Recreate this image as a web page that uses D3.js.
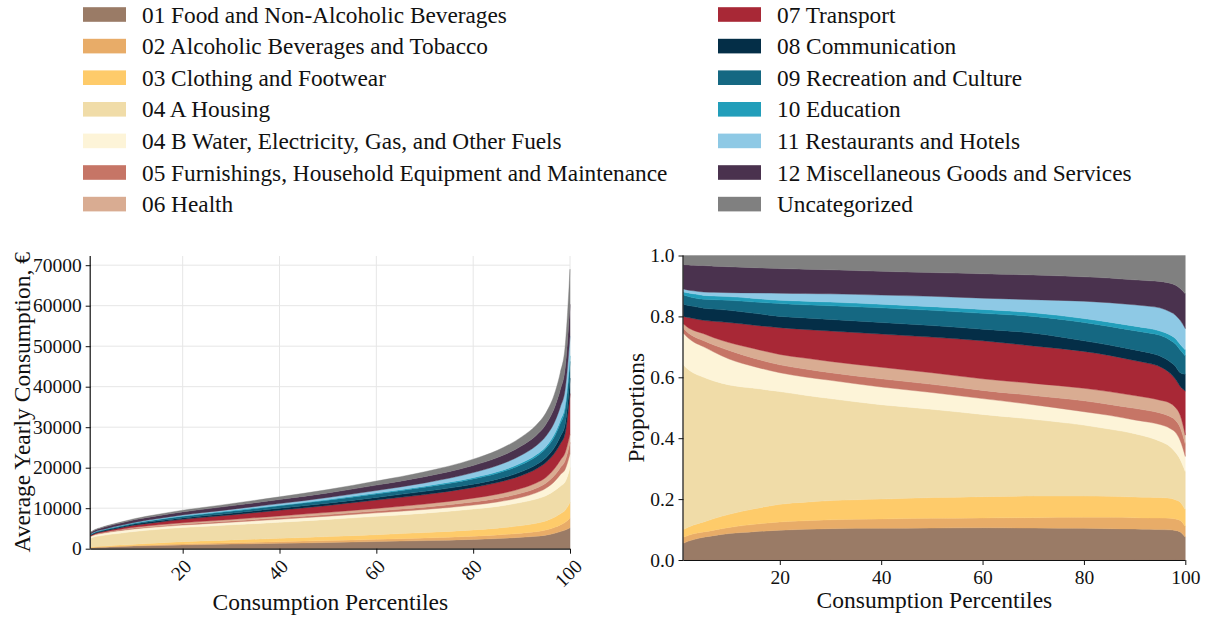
<!DOCTYPE html>
<html><head><meta charset="utf-8">
<script src="https://cdn.jsdelivr.net/npm/d3@7"></script>
<style>
body{margin:0;background:#fff}
svg{display:block}
text{font-family:"Liberation Serif","Times New Roman",serif;fill:#111}
</style></head>
<body><svg id="chart" width="1214" height="617"></svg>
<script>
const categories = [
  "01 Food and Non-Alcoholic Beverages",
  "02 Alcoholic Beverages and Tobacco",
  "03 Clothing and Footwear",
  "04 A Housing",
  "04 B Water, Electricity, Gas, and Other Fuels",
  "05 Furnishings, Household Equipment and Maintenance",
  "06 Health",
  "07 Transport",
  "08 Communication",
  "09 Recreation and Culture",
  "10 Education",
  "11 Restaurants and Hotels",
  "12 Miscellaneous Goods and Services",
  "Uncategorized"
];
const colors = ["#9a7b66","#e8ac68","#fecb6a","#f0dca8","#fdf4d8","#c67566","#d9ac92",
                "#a82836","#042e47","#156882","#229eba","#8ec9e5","#4a324e","#808080"];

const percentiles = [1,2,3,5,7,10,15,20,25,30,40,50,60,70,80,85,90,93,95,97,98,99,100];
// average yearly consumption (EUR) at each percentile
const totals = [4100,4800,5200,5900,6500,7400,8500,9500,10300,11100,12800,14600,16700,19000,22100,24300,27600,30500,33500,39000,43500,50000,69000];

// budget shares of each category at each percentile
const s01 = [.055,.062,.067,.075,.080,.087,.093,.098,.101,.103,.104,.105,.106,.105,.104,.103,.102,.101,.100,.099,.097,.092,.075];
const s02 = [.020,.019,.019,.017,.018,.020,.024,.027,.028,.029,.031,.032,.032,.034,.036,.037,.037,.037,.038,.038,.038,.038,.035];
const s03 = [.025,.027,.029,.033,.038,.043,.051,.058,.061,.063,.065,.068,.070,.071,.070,.069,.068,.068,.067,.066,.063,.060,.055];
const s04a = [.540,.517,.499,.475,.452,.425,.396,.370,.351,.335,.310,.290,.270,.252,.233,.221,.208,.196,.185,.169,.157,.140,.125];
const s04b = [.105,.103,.102,.100,.095,.085,.071,.062,.060,.060,.058,.055,.052,.048,.044,.045,.045,.050,.055,.060,.065,.062,.050];
const s05 = [.015,.017,.018,.020,.023,.028,.027,.026,.026,.025,.027,.027,.027,.030,.036,.036,.038,.038,.038,.039,.040,.043,.040];
const s06 = [.015,.017,.020,.023,.024,.026,.032,.034,.036,.037,.038,.038,.038,.040,.041,.042,.042,.042,.042,.044,.042,.040,.030];
const s07 = [.025,.034,.039,.044,.054,.066,.077,.088,.094,.100,.109,.117,.125,.123,.121,.119,.115,.113,.110,.098,.093,.095,.145];
const s08 = [.040,.040,.040,.040,.040,.040,.039,.037,.038,.038,.038,.038,.038,.042,.035,.034,.035,.035,.035,.038,.042,.045,.055];
const s09 = [.030,.029,.028,.029,.031,.033,.037,.042,.043,.045,.048,.050,.052,.055,.060,.061,.063,.065,.068,.071,.073,.075,.060];
const s10 = [.010,.012,.013,.013,.012,.012,.012,.011,.012,.012,.012,.012,.013,.012,.013,.014,.015,.015,.014,.017,.018,.018,.020];
const s11 = [.010,.009,.010,.011,.012,.013,.018,.023,.025,.027,.030,.034,.037,.043,.057,.064,.070,.073,.076,.076,.077,.079,.070];
const s12 = [.080,.083,.084,.087,.086,.085,.083,.081,.080,.079,.078,.078,.080,.081,.080,.081,.082,.084,.087,.094,.098,.105,.114];
const sU  = [.030,.031,.032,.033,.035,.037,.040,.043,.045,.047,.052,.056,.060,.064,.070,.074,.080,.083,.085,.091,.097,.108,.126];

const shares = [s01,s02,s03,s04a,s04b,s05,s06,s07,s08,s09,s10,s11,s12,sU];

const leftYTicks = [0,10000,20000,30000,40000,50000,60000,70000];
const leftXTicks = [20,40,60,80,100];
const rightYTicks = [0,0.2,0.4,0.6,0.8,1.0];
const rightXTicks = [20,40,60,80,100];

const keys = categories.map((_, i) => "k" + i);
const rows = percentiles.map((p, j) => {
  const r = {p};
  keys.forEach((k, i) => r[k] = shares[i][j] * totals[j]);
  return r;
});

const svg = d3.select("#chart");
const tickFont = 19.5, labelFont = 23.5, legendFont = 23.3;

// ---------- Legend ----------
const leg = svg.append("g");
categories.forEach((c, i) => {
  const col = i < 7 ? 0 : 1;
  const row = i % 7;
  const sx = col === 0 ? 83 : 718;
  const tx = col === 0 ? 142 : 777;
  const cy = 14.5 + row * 31.6;
  leg.append("rect").attr("x", sx).attr("y", cy - 7.3).attr("width", 43).attr("height", 14.6).attr("fill", colors[i]);
  leg.append("text").attr("x", tx).attr("y", cy).attr("dominant-baseline", "central")
     .style("font-size", legendFont + "px").text(c);
});

function styleAxis(g) {
  g.attr("font-family", null).attr("font-size", null);
  g.select(".domain").attr("stroke", "#111").attr("stroke-width", 1.2);
  g.selectAll(".tick line").attr("stroke", "#111").attr("stroke-width", 1);
  g.selectAll("text").style("font-size", tickFont + "px").attr("fill", "#111");
}

// ---------- Left chart ----------
const L = {x0: 90.7, x1: 570, y0: 548.7, y1: 256};
const xL = d3.scaleLinear().domain([1, 100]).range([L.x0, L.x1]);
const yL = d3.scaleLinear().domain([0, 72270]).range([L.y0, L.y1]);

const gL = svg.append("g");
gL.append("g").selectAll("line").data(leftYTicks.filter(v => v > 0)).join("line")
  .attr("x1", L.x0).attr("x2", L.x1).attr("y1", d => yL(d)).attr("y2", d => yL(d))
  .attr("stroke", "#e6e6e6").attr("stroke-width", 1);
gL.append("g").selectAll("line").data(leftXTicks).join("line")
  .attr("x1", d => xL(d)).attr("x2", d => xL(d)).attr("y1", L.y0).attr("y2", L.y1)
  .attr("stroke", "#e6e6e6").attr("stroke-width", 1);

const stackAbs = d3.stack().keys(keys).order(d3.stackOrderNone).offset(d3.stackOffsetNone)(rows);
const areaL = d3.area().curve(d3.curveMonotoneX)
  .x(d => xL(d.data.p)).y0(d => yL(d[0])).y1(d => yL(d[1]));
gL.append("g").selectAll("path").data(stackAbs).join("path")
  .attr("d", areaL).attr("fill", (d, i) => colors[i])
  .attr("stroke", (d, i) => colors[i]).attr("stroke-width", 0.4);

const gAxLy = gL.append("g").attr("transform", `translate(${L.x0},0)`)
  .call(d3.axisLeft(yL).tickValues(leftYTicks).tickFormat(d3.format("d")).tickSize(5).tickPadding(4));
const gAxLx = gL.append("g").attr("transform", `translate(0,${L.y0})`)
  .call(d3.axisBottom(xL).tickValues(leftXTicks).tickSize(5).tickFormat(d3.format("d")));
styleAxis(gAxLy); styleAxis(gAxLx);
gAxLy.select(".domain").attr("d", `M-0.5,${L.y0}V${L.y1}`);
gAxLx.select(".domain").attr("d", `M${L.x0},0.5H${L.x1}`);
gAxLx.selectAll(".tick text").each(function() {
  const t = d3.select(this);
  const bb = this.getBBox();
  const half = (bb.width + bb.height) / Math.SQRT2 / 2;
  t.attr("y", null).attr("dy", null).attr("text-anchor", "middle").attr("dominant-baseline", "central")
   .attr("transform", `translate(-2,${7 + half}) rotate(-45)`);
});

gL.append("text").attr("x", (L.x0 + L.x1) / 2).attr("y", 610).attr("text-anchor", "middle")
  .style("font-size", labelFont + "px").text("Consumption Percentiles");
gL.append("text").attr("transform", `translate(30,${(L.y0 + L.y1) / 2}) rotate(-90)`).attr("text-anchor", "middle")
  .style("font-size", labelFont + "px").text("Average Yearly Consumption, €");

// ---------- Right chart ----------
const R = {x0: 683.5, x1: 1185.3, y0: 560, y1: 255.5};
const xR = d3.scaleLinear().domain([1, 100]).range([R.x0, R.x1]);
const yR = d3.scaleLinear().domain([0, 1]).range([R.y0, R.y1]);
const gR = svg.append("g");
const stackRel = d3.stack().keys(keys).order(d3.stackOrderNone).offset(d3.stackOffsetExpand)(rows);
const areaR = d3.area().curve(d3.curveMonotoneX)
  .x(d => xR(d.data.p)).y0(d => yR(d[0])).y1(d => yR(d[1]));
gR.append("g").selectAll("path").data(stackRel).join("path")
  .attr("d", areaR).attr("fill", (d, i) => colors[i])
  .attr("stroke", (d, i) => colors[i]).attr("stroke-width", 0.4);

const gAxRy = gR.append("g").attr("transform", `translate(${R.x0},0)`)
  .call(d3.axisLeft(yR).tickValues(rightYTicks).tickFormat(d3.format(".1f")).tickSize(5).tickPadding(4));
const gAxRx = gR.append("g").attr("transform", `translate(0,${R.y0})`)
  .call(d3.axisBottom(xR).tickValues(rightXTicks).tickSize(5).tickPadding(5).tickFormat(d3.format("d")));
styleAxis(gAxRy); styleAxis(gAxRx);
gAxRy.select(".domain").attr("d", `M-0.5,${R.y0}V${R.y1}`);
gAxRx.select(".domain").attr("d", `M${R.x0},0.5H${R.x1}`);

gR.append("text").attr("x", (R.x0 + R.x1) / 2).attr("y", 608).attr("text-anchor", "middle")
  .style("font-size", labelFont + "px").text("Consumption Percentiles");
gR.append("text").attr("transform", `translate(644,${(R.y0 + R.y1) / 2}) rotate(-90)`).attr("text-anchor", "middle")
  .style("font-size", labelFont + "px").text("Proportions");
</script>
</body></html>
